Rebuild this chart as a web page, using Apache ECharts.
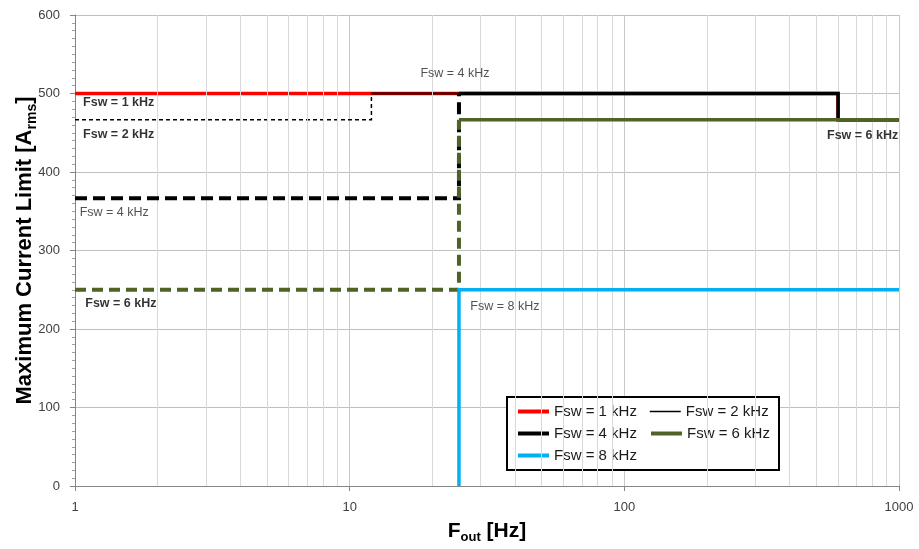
<!DOCTYPE html>
<html><head><meta charset="utf-8">
<script src="https://cdn.jsdelivr.net/npm/echarts@6/dist/echarts.min.js"></script>
<style>html,body{margin:0;padding:0;background:#fff}#c{width:919px;height:549px}</style>
</head><body><div id="c"></div>
<script>
// ---- data ----
const xMajorTicks = [1, 10, 100, 1000];
const xMinorGrid = [2,3,4,5,6,7,8,9,20,30,40,50,60,70,80,90,200,300,400,500,600,700,800,900];
const yTicks = [0, 100, 200, 300, 400, 500, 600];
const legendNames = ['Fsw = 1 kHz', 'Fsw = 2 kHz', 'Fsw = 4 kHz', 'Fsw = 6 kHz', 'Fsw = 8 kHz'];

const fsw1Solid  = [[1, 500], [600, 500], [600, 466.67], [1000, 466.67]];
const fsw2Dashed = [[1, 466.67], [12, 466.67], [12, 500]];
const fsw2Solid  = [[12, 500], [600, 500], [600, 466.67], [1000, 466.67]];
const fsw4Dashed = [[1, 366.67], [25, 366.67], [25, 500]];
const fsw4Solid  = [[25, 500], [600, 500], [600, 466.67], [1000, 466.67]];
const fsw6Dashed = [[1, 250], [25, 250], [25, 466.67]];
const fsw6Solid  = [[25, 466.67], [1000, 466.67]];
const fsw8Solid  = [[25, 0], [25, 250], [1000, 250]];

// annotation texts: [x, y, text, bold]
const annotations = [
  [1.07, 488, 'Fsw = 1 kHz', 1],
  [1.07, 448, 'Fsw = 2 kHz', 1],
  [1.04, 348, 'Fsw = 4 kHz', 0],
  [1.09, 233, 'Fsw = 6 kHz', 1],
  [18.1, 526, 'Fsw = 4 kHz', 0],
  [547, 446, 'Fsw = 6 kHz', 1],
  [27.5, 229, 'Fsw = 8 kHz', 0]
];

const C = {red:'#ff0000', black:'#000000', green:'#4f6228', blue:'#00b0f0'};
const FONT = 'Liberation Sans';

function line(name, data, color, width, dash, z) {
  return {
    name: name, type: 'line', data: data, symbol: 'none', z: z,
    silent: true, animation: false,
    lineStyle: {color: color, width: width, type: dash || 'solid', cap: 'butt', join: 'miter'},
    itemStyle: {color: color}
  };
}
function legendItem(name, color, width) {
  return {name: name,
    lineStyle: {color: color, width: width, type: 'solid', opacity: 1},
    itemStyle: {color: 'rgba(0,0,0,0)', borderWidth: 0, opacity: 0}};
}

const chart = echarts.init(document.getElementById('c'), null, {renderer: 'canvas'});
chart.setOption({
  animation: false,
  textStyle: {fontFamily: FONT},
  grid: {left: 75, right: 20, top: 15, bottom: 63, containLabel: false, outerBoundsMode: 'none'},
  xAxis: {
    type: 'log', logBase: 10, min: xMajorTicks[0], max: xMajorTicks[xMajorTicks.length - 1],
    name: '{m|F}{s|out}{m| [Hz]}', nameLocation: 'middle', nameGap: 32, nameMoveOverlap: false,
    nameTextStyle: {rich: {
      m: {fontSize: 21, fontWeight: 'bold', color: '#000', fontFamily: FONT, lineHeight: 26},
      s: {fontSize: 13, fontWeight: 'bold', color: '#000', fontFamily: FONT, lineHeight: 26, verticalAlign: 'bottom', padding: [10, 0, 0, 0]}
    }},
    axisLine: {show: true, lineStyle: {color: '#868686', width: 1}},
    axisTick: {show: true, length: 5, inside: false, lineStyle: {color: '#868686'}},
    axisLabel: {fontSize: 13, color: '#404040', margin: 15, fontFamily: FONT,
      formatter: v => String(v)},
    splitLine: {show: true, lineStyle: {color: '#c8c8c8', width: 1}}
  },
  yAxis: {
    type: 'value', min: yTicks[0], max: yTicks[yTicks.length - 1], interval: 100,
    name: '{m|Maximum Current Limit [A}{s|rms}{m|]}', nameLocation: 'middle', nameGap: 36, nameMoveOverlap: false,
    nameTextStyle: {rich: {
      m: {fontSize: 22, fontWeight: 'bold', color: '#000', fontFamily: FONT, lineHeight: 28},
      s: {fontSize: 14, fontWeight: 'bold', color: '#000', fontFamily: FONT, lineHeight: 28, verticalAlign: 'bottom', padding: [11, 0, 0, 0]}
    }},
    axisLine: {show: true, lineStyle: {color: '#868686', width: 1}},
    axisTick: {show: true, length: 5, inside: false, lineStyle: {color: '#868686'}},
    minorTick: {show: true, splitNumber: 10, length: 3, lineStyle: {color: '#a0a0a0'}},
    axisLabel: {fontSize: 13, color: '#404040', margin: 15, fontFamily: FONT},
    splitLine: {show: true, lineStyle: {color: '#bfbfbf', width: 1}}
  },
  legend: {
    left: 507, top: 397, orient: 'horizontal', width: 290,
    itemWidth: 31, itemHeight: 14, itemGap: 5,
    padding: [6, 2, 6, 9],
    borderColor: '#000', borderWidth: 2, backgroundColor: '#fff',
    selectedMode: false,
    textStyle: {fontSize: 15, color: '#1a1a1a', fontFamily: FONT, width: 90, lineHeight: 17},
    data: [
      legendItem(legendNames[0], C.red, 4),
      legendItem(legendNames[1], C.black, 1.5),
      legendItem(legendNames[2], C.black, 4),
      legendItem(legendNames[3], C.green, 4),
      legendItem(legendNames[4], C.blue, 4)
    ]
  },
  series: [
    {
      name: 'minorGrid', type: 'line', data: [], silent: true, z: 1,
      markLine: {silent: true, symbol: 'none', animation: false,
        lineStyle: {color: '#d9d9d9', width: 1, type: 'solid'},
        label: {show: false},
        data: xMinorGrid.map(v => ({xAxis: v}))}
    },
    line(legendNames[0], fsw1Solid, C.red, 3.5, null, 3),
    line(legendNames[1], fsw2Solid, C.black, 2, null, 4),
    line('2 kHz derated', fsw2Dashed, C.black, 1.5, [4, 3], 4),
    line(legendNames[2], fsw4Solid, C.black, 3.5, null, 5),
    line('4 kHz derated', fsw4Dashed, C.black, 4, [12, 6], 5),
    line(legendNames[3], fsw6Solid, C.green, 3.5, null, 6),
    line('6 kHz derated', fsw6Dashed, C.green, 4, [11, 6], 6),
    line(legendNames[4], fsw8Solid, C.blue, 3.5, null, 7),
    {
      name: 'annotations', type: 'scatter', symbolSize: 0, silent: true, z: 10,
      data: annotations,
      label: {
        show: true, position: 'right', distance: 0,
        formatter: p => (p.data[3] ? '{b|' : '{n|') + p.data[2] + '}',
        rich: {
          b: {fontSize: 12.5, fontWeight: 'bold', color: '#000', fontFamily: FONT},
          n: {fontSize: 12.5, color: '#262626', fontFamily: FONT}
        }
      }
    }
  ]
});
</script>
</body></html>
